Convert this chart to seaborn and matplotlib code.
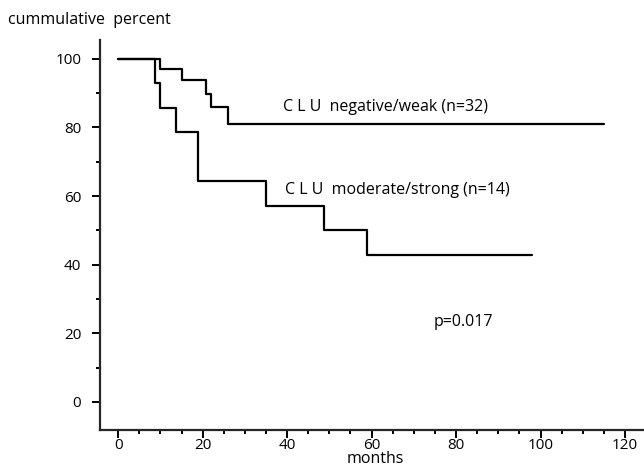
import pandas as pd
import matplotlib
matplotlib.use("Agg")
import matplotlib.pyplot as plt
import matplotlib.ticker as ticker
import seaborn as sns

# survival curves (months, cumulative percent)
neg_months = [0, 9.8, 15.1, 20.8, 21.9, 25.9, 115.0]
neg_percent = [100, 96.9, 93.8, 89.9, 86.0, 81.0, 81.0]

mod_months = [0, 8.8, 9.8, 13.7, 18.9, 35.0, 48.8, 58.9, 98.1]
mod_percent = [100, 92.9, 85.7, 78.6, 64.3, 57.1, 50.0, 42.9, 42.9]

x_ticks = [0, 20, 40, 60, 80, 100, 120]
y_ticks = [0, 20, 40, 60, 80, 100]

sns.set_style("ticks")
plt.rcParams['font.family'] = ['Open Sans', 'DejaVu Sans']
plt.rcParams['text.color'] = 'black'
plt.rcParams['axes.labelcolor'] = 'black'
plt.rcParams['xtick.color'] = 'black'
plt.rcParams['ytick.color'] = 'black'

fig = plt.figure(figsize=(6.44, 4.69), dpi=100)
ax = fig.add_axes([100 / 644, 1 - 430 / 469, 544 / 644, 390 / 469])

neg = pd.DataFrame({'months': neg_months, 'percent': neg_percent})
mod = pd.DataFrame({'months': mod_months, 'percent': mod_percent})

sns.lineplot(data=neg, x='months', y='percent', ax=ax, color='black',
             linewidth=1.6, drawstyle='steps-post', estimator=None, sort=False)
sns.lineplot(data=mod, x='months', y='percent', ax=ax, color='black',
             linewidth=1.6, drawstyle='steps-post', estimator=None, sort=False)

ax.set_xlim(-4.3, 124.5)
ax.set_ylim(-8.2, 105.5)
ax.set_xticks(x_ticks)
ax.set_yticks(y_ticks)
ax.xaxis.set_minor_locator(ticker.MultipleLocator(5))
ax.yaxis.set_minor_locator(ticker.MultipleLocator(10))
ax.tick_params(which='major', length=5.5, width=1.4, labelsize=11, direction='out')
ax.tick_params(which='minor', length=3.2, width=1.4, direction='out')
ax.tick_params(axis='x', which='major', pad=0.5)
ax.tick_params(axis='y', which='major', pad=8)

sns.despine(ax=ax)
for side in ['left', 'bottom']:
    ax.spines[side].set_linewidth(1.6)

ax.set_xlabel('')
ax.set_ylabel('')

fig.text(375 / 644, 1 - 459 / 469, 'months', fontsize=11.5, va='center', ha='center')
fig.text(8 / 644, 1 - 20 / 469, 'cummulative  percent', fontsize=11.5, va='center', ha='left')
ax.text(39.0, 86.1, 'C L U  negative/weak (n=32)', fontsize=11.5, va='center', ha='left')
ax.text(39.4, 61.8, 'C L U  moderate/strong (n=14)', fontsize=11.5, va='center', ha='left')
ax.text(74.6, 23.4, 'p=0.017', fontsize=11.5, va='center', ha='left')

fig.savefig('out.png', dpi=100)
